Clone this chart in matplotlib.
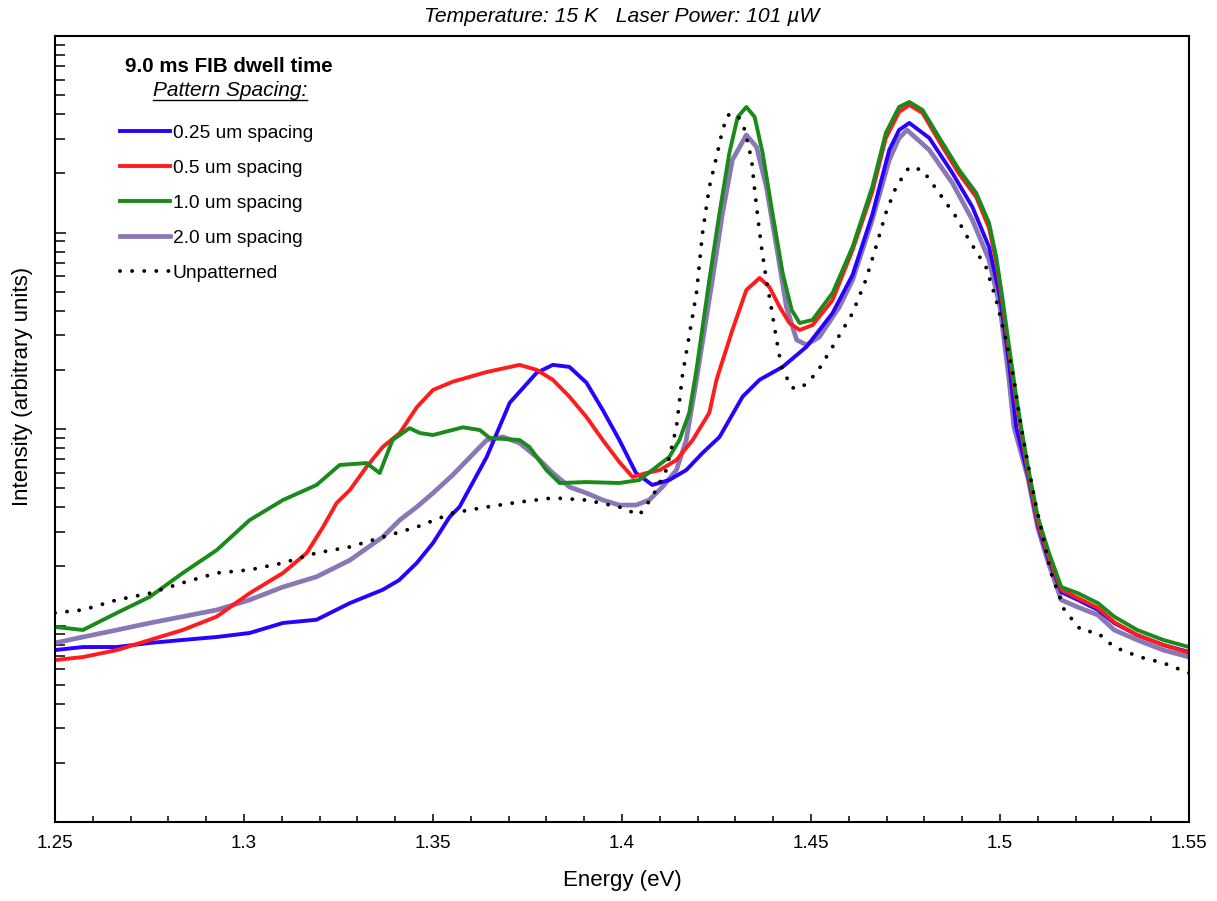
import matplotlib.pyplot as plt
from matplotlib.lines import Line2D
from matplotlib.ticker import MultipleLocator, FuncFormatter, LogLocator, NullFormatter

plt.rcParams['font.family'] = ['Liberation Sans', 'DejaVu Sans']

# PL spectra (energy in eV, intensity in arbitrary units)
e_025 = [1.250, 1.2574, 1.2664, 1.2751, 1.2838, 1.2928, 1.3015, 1.3103, 1.3192, 1.328, 1.3367, 1.341,
         1.3457, 1.350, 1.3544, 1.357, 1.3642, 1.3703, 1.3774, 1.3817, 1.3861, 1.3906, 1.3949, 1.3993,
         1.4037, 1.408, 1.4125, 1.417, 1.4213, 1.4258, 1.4319, 1.4364, 1.4425, 1.4488, 1.4557, 1.461,
         1.4662, 1.4707, 1.4733, 1.476, 1.4813, 1.4874, 1.4927, 1.4971, 1.500, 1.5024, 1.5043, 1.5074,
         1.510, 1.5127, 1.5162, 1.5206, 1.5259, 1.5302, 1.5363, 1.5432, 1.550]
i_025 = [7.50, 7.77, 7.77, 8.15, 8.44, 8.74, 9.16, 10.3, 10.7, 13.0, 15.2, 17.0,
         20.8, 26.3, 35.7, 40.1, 72.0, 136, 193, 212, 207, 172, 125, 87.9,
         59.7, 51.9, 55.0, 61.8, 75.5, 91.1, 146, 178, 207, 262, 389, 608,
         1228, 2629, 3323, 3609, 3026, 2008, 1348, 844, 470, 217, 102, 58.3,
         32.5, 22.1, 14.8, 13.5, 12.0, 10.3, 8.94, 7.96, 7.33]

e_05 = [1.250, 1.2574, 1.2664, 1.2751, 1.2838, 1.2928, 1.3015, 1.3103, 1.3166, 1.3209, 1.3245, 1.328,
        1.3324, 1.3367, 1.3412, 1.3457, 1.350, 1.3552, 1.3642, 1.3729, 1.3774, 1.3817, 1.3861, 1.3906,
        1.3949, 1.3993, 1.4028, 1.4065, 1.410, 1.4144, 1.4187, 1.4231, 1.425, 1.4292, 1.4329, 1.4364,
        1.439, 1.4417, 1.4443, 1.447, 1.4504, 1.4557, 1.461, 1.4662, 1.4698, 1.4733, 1.476, 1.4795,
        1.4848, 1.4892, 1.4937, 1.4971, 1.499, 1.5006, 1.5024, 1.5043, 1.5056, 1.5074, 1.510, 1.5127,
        1.5162, 1.5206, 1.5259, 1.5302, 1.5363, 1.5432, 1.550]
i_05 = [6.67, 6.91, 7.50, 8.44, 9.49, 11.1, 14.6, 18.5, 23.4, 31.7, 42.0, 48.9,
        64.1, 81.0, 95.4, 129, 158, 174, 195, 212, 200, 178, 146, 115,
        87.9, 67.9, 57.0, 59.7, 61.8, 69.5, 87.9, 121, 178, 319, 510, 587,
        528, 418, 346, 319, 338, 453, 815, 1607, 3026, 4105, 4456, 4057,
        2724, 1985, 1516, 1054, 708, 443, 247, 137, 96.5, 60.4, 33.6, 22.9,
        15.2, 13.8, 12.3, 10.4, 8.94, 7.96, 7.25]

e_10 = [1.250, 1.2574, 1.2664, 1.2751, 1.2838, 1.2928, 1.3015, 1.3103, 1.3192, 1.3253, 1.3324, 1.3359,
        1.3393, 1.3438, 1.3465, 1.350, 1.3579, 1.3624, 1.365, 1.3729, 1.3755, 1.380, 1.3835, 1.3906,
        1.3993, 1.4046, 1.408, 1.4125, 1.4152, 1.4178, 1.4197, 1.4231, 1.4258, 1.4284, 1.4306, 1.4329,
        1.4351, 1.4372, 1.4398, 1.4425, 1.4449, 1.447, 1.4504, 1.4557, 1.461, 1.4662, 1.4698, 1.4733,
        1.476, 1.4795, 1.4848, 1.4892, 1.4937, 1.4971, 1.499, 1.5006, 1.5024, 1.5043, 1.5056, 1.5074,
        1.510, 1.5127, 1.5162, 1.5206, 1.5259, 1.5302, 1.5363, 1.5432, 1.550]
i_10 = [9.83, 9.49, 11.6, 14.0, 18.5, 24.2, 34.4, 43.5, 51.9, 65.6, 67.1, 59.7,
        87.9, 101, 95.4, 93.2, 102, 98.8, 90.0, 87.9, 81.0, 61.8, 53.1, 53.7,
        53.1, 55.0, 61.8, 72.0, 87.9, 121, 200, 573, 1257, 2538, 3870, 4352,
        3870, 2538, 1257, 622, 403, 346, 359, 492, 844, 1704, 3209, 4352,
        4615, 4202, 2854, 2080, 1589, 1118, 750, 470, 262, 146, 102, 64.1,
        35.7, 24.2, 15.7, 14.6, 13.0, 11.1, 9.49, 8.44, 7.77]

e_20 = [1.250, 1.2574, 1.2664, 1.2751, 1.2838, 1.2928, 1.3015, 1.3103, 1.3192, 1.328, 1.3367, 1.3412,
        1.3457, 1.350, 1.3552, 1.3642, 1.3685, 1.3729, 1.3774, 1.3817, 1.3861, 1.3906, 1.3949, 1.3993,
        1.4037, 1.4072, 1.4107, 1.4144, 1.417, 1.4197, 1.4239, 1.4266, 1.4292, 1.4329, 1.4356, 1.4382,
        1.4409, 1.4435, 1.4462, 1.4488, 1.4522, 1.4575, 1.461, 1.4662, 1.4707, 1.4733, 1.4754, 1.4813,
        1.4874, 1.4927, 1.4971, 1.500, 1.5024, 1.5037, 1.5074, 1.510, 1.5127, 1.5162, 1.5206, 1.5259,
        1.5302, 1.5363, 1.5432, 1.550]
i_20 = [8.15, 8.74, 9.49, 10.3, 11.1, 12.0, 13.5, 15.7, 17.7, 21.5, 28.2, 34.4,
        40.1, 47.2, 58.3, 87.9, 91.1, 84.9, 72.0, 59.7, 50.7, 47.2, 43.5, 41.0,
        41.0, 43.5, 50.7, 61.8, 87.9, 178, 573, 1257, 2339, 3135, 2724, 1704,
        844, 418, 284, 268, 294, 418, 573, 1158, 2339, 3026, 3323, 2629,
        1786, 1158, 725, 418, 178, 102, 56.3, 31.4, 21.1, 13.5, 12.4, 11.3,
        9.49, 8.44, 7.50, 6.91]

e_ref = [1.250, 1.2574, 1.2664, 1.2751, 1.2838, 1.2928, 1.3015, 1.3103, 1.3192, 1.328, 1.3367, 1.3457,
         1.3552, 1.3642, 1.3729, 1.3817, 1.3906, 1.3993, 1.4046, 1.408, 1.4117, 1.4144, 1.416, 1.4197,
         1.4213, 1.4231, 1.425, 1.4266, 1.428, 1.4306, 1.4325, 1.4343, 1.4351, 1.436, 1.437, 1.4382,
         1.4396, 1.4409, 1.4422, 1.4449, 1.4475, 1.4515, 1.4557, 1.461, 1.4645, 1.4675, 1.4698, 1.4725,
         1.476, 1.4795, 1.4839, 1.4884, 1.4918, 1.4963, 1.499, 1.5016, 1.5037, 1.5056, 1.5092, 1.5135,
         1.517, 1.5214, 1.5259, 1.5302, 1.537, 1.5432, 1.550]
i_ref = [11.6, 12.0, 13.5, 14.6, 16.5, 18.5, 19.2, 20.8, 23.4, 25.1, 28.2, 31.7,
         37.4, 40.1, 42.5, 44.6, 43.5, 40.1, 36.5, 45.1, 61.8, 102, 188, 492,
         994, 1704, 2423, 3323, 3963, 3963, 3323, 2339, 1645, 1158, 815, 573,
         403, 284, 207, 162, 162, 193, 262, 389, 573, 884, 1257, 1704,
         2154, 2080, 1589, 1199, 916, 667, 453, 284, 178, 102, 43.5, 18.5,
         12.0, 9.49, 9.16, 7.77, 6.91, 6.45, 5.73]

labels = ["0.25 um spacing", "0.5 um spacing", "1.0 um spacing", "2.0 um spacing", "Unpatterned"]

W, H = 1217, 901
fig = plt.figure(figsize=(W / 100, H / 100), dpi=100)
ax = fig.add_axes([55 / W, 79 / H, 1134 / W, 786 / H])

l20, = ax.plot(e_20, i_20, color='#8a78b6', lw=3.4, solid_joinstyle='round')
l025, = ax.plot(e_025, i_025, color='#2a00ff', lw=2.8, solid_joinstyle='round')
l05, = ax.plot(e_05, i_05, color='#ff1c1c', lw=2.8, solid_joinstyle='round')
l10, = ax.plot(e_10, i_10, color='#1a8a1a', lw=2.8, solid_joinstyle='round')
lref, = ax.plot(e_ref, i_ref, color='black', lw=2.8, linestyle=(0, (0.01, 3.1)),
                dash_capstyle='round')

ax.set_yscale('log')
ax.set_xlim(1.25, 1.55)
ax.set_ylim(1, 1e4)

ax.xaxis.set_major_locator(MultipleLocator(0.05))
ax.xaxis.set_minor_locator(MultipleLocator(0.01))
ax.xaxis.set_major_formatter(FuncFormatter(lambda v, p: f"{v:g}"))
ax.yaxis.set_major_locator(LogLocator(base=10))
ax.yaxis.set_minor_locator(LogLocator(base=10, subs=range(2, 10)))
ax.yaxis.set_major_formatter(NullFormatter())
ax.yaxis.set_minor_formatter(NullFormatter())

ax.tick_params(which='both', direction='in', top=False, right=False, width=1.1)
ax.tick_params(axis='x', which='major', length=6, pad=9, labelsize=13.5)
ax.tick_params(axis='x', which='minor', length=4)
ax.tick_params(axis='y', which='major', length=8)
ax.tick_params(axis='y', which='minor', length=7)
for sp in ax.spines.values():
    sp.set_linewidth(1.5)

ax.set_title("Temperature: 15 K   Laser Power: 101 \u00b5W", style='italic', fontsize=15.2, pad=10)
ax.set_xlabel("Energy (eV)", fontsize=16, labelpad=13)
ax.set_ylabel("Intensity (arbitrary units)", fontsize=16)
ax.yaxis.set_label_coords(-0.0194, (822 - 386) / 786)

# legend block
fig.text(229 / W, 1 - 66 / H, "9.0 ms FIB dwell time", ha='center', va='center',
         fontsize=14.8, fontweight='bold')
sub = fig.text(230 / W, 1 - 96 / H, "Pattern Spacing:", ha='center', va='baseline',
               fontsize=15, style='italic')

ax.legend([l025, l05, l10, l20, lref], labels, loc='upper left',
          bbox_to_anchor=(120 / W, 1 - 124.5 / H), bbox_transform=fig.transFigure,
          frameon=False, fontsize=13.8, handlelength=2.6, handletextpad=0.15,
          labelspacing=0.92, borderpad=0, borderaxespad=0)

fig.canvas.draw()
bb = sub.get_window_extent().transformed(fig.transFigure.inverted())
yu = 1 - 99.5 / H
fig.add_artist(Line2D([bb.x0, bb.x1], [yu, yu], transform=fig.transFigure, color='black', lw=1.0))

fig.savefig("out.png", dpi=100)
